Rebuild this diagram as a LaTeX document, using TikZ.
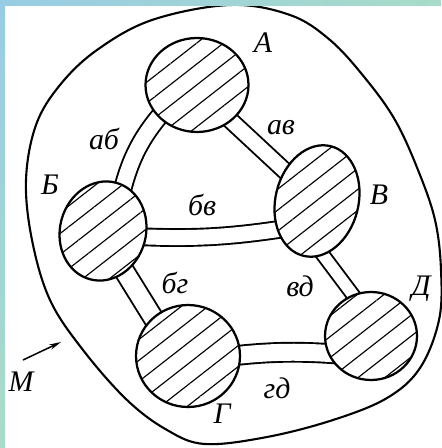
\documentclass[tikz,border=0pt]{standalone}
\usepackage{fontspec}
\setmainfont{Liberation Serif}
\usetikzlibrary{calc,shapes.geometric,patterns.meta,backgrounds,arrows.meta}
\definecolor{frameblue}{RGB}{152,204,228}
\definecolor{framegreen}{RGB}{168,220,200}
\begin{document}
\begin{tikzpicture}[x=0.02cm,y=-0.02cm,
  isle/.style={ellipse, draw, line width=0.045cm, inner sep=0pt,
    preaction={fill=white},
    pattern={Lines[angle=38,distance=0.33cm,line width=0.65pt]}},
  bridge/.style={draw, line width=0.038cm, double=white, double distance=#1},
  blob/.style={draw, line width=0.042cm},
  lbl/.style={font=\fontsize{17}{19}\selectfont\itshape, inner sep=0pt}]
\useasboundingbox (0,0) rectangle (441,448);

% islands
\node[isle, minimum width=2.06cm, minimum height=1.88cm] (nA) at (197,85) {};
\node[isle, minimum width=1.72cm, minimum height=2.0cm, rotate=-15] (nB) at (103,231) {};
\node[isle, minimum width=1.66cm, minimum height=2.26cm, rotate=-14] (nV) at (317,201) {};
\node[isle, minimum width=2.08cm, minimum height=2.04cm] (nG) at (188,356) {};
\node[isle, minimum width=1.84cm, minimum height=1.76cm] (nD) at (371,336) {};

\begin{pgfonlayer}{background}
  \fill[white] (0,0) rectangle (441,448);
  \path[bridge=0.31cm] ($(nA.center)+(-26,18)$) to[bend right=15] ($(nB.center)+(17,-31)$);
  \path[bridge=0.29cm] ($(nA.center)+(17,20)$) -- ($(nV.center)+(-17,-16)$);
  \path[bridge=0.30cm] ($(nB.center)+(22,5)$) to[bend right=6] ($(nV.center)+(-22,26)$);
  \path[bridge=0.36cm] ($(nB.center)+(2,9)$) -- ($(nG.center)+(-13,-3)$);
  \path[bridge=0.23cm] ($(nV.center)+(-12,30)$) -- ($(nD.center)+(-3,-21)$);
  \path[bridge=0.34cm] ($(nG.center)+(27,2)$) to[bend left=6] ($(nD.center)+(-21,19)$);
\end{pgfonlayer}

% outer region M
\draw[blob] plot[smooth cycle, tension=0.6] coordinates {
  (230,5) (290,15) (330,40) (365,78) (395,120) (418,170) (435,220) (441,270)
  (439,320) (420,368) (387,398) (333,420) (267,437) (205,444) (167,430)
  (127,400) (83,350) (50,300) (32,240) (26,180) (36,125) (60,85) (97,50) (152,20)};

% labels
\node[lbl] (lA) at (263,43) {А};
\node[lbl] (lB) at (50,185) {Б};
\node[lbl] (lV) at (379,195) {В};
\node[lbl] (lG) at (222,414) {Г};
\node[lbl] (lD) at (421,289) {Д};
\node[lbl] (lab) at (104,139) {аб};
\node[lbl] (lav) at (281,128) {ав};
\node[lbl] (lbv) at (202,205) {бв};
\node[lbl] (lbg) at (175,283) {бг};
\node[lbl] (lvd) at (300,286) {вд};
\node[lbl] (lgd) at (277,388) {гд};
\node[lbl] (lM) at (21,382) {М};

% arrow to M region
\coordinate (m0) at (23,360);
\coordinate (m1) at (61,342);
\draw[line width=0.03cm, -{Stealth[length=0.24cm,width=0.11cm]}] (m0) -- (m1);

% frame strips
\shade[left color=frameblue, right color=framegreen] (0,0) rectangle (441,6);
\shade[top color=frameblue, bottom color=framegreen] (0,0) rectangle (5,448);
\end{tikzpicture}
\end{document}
